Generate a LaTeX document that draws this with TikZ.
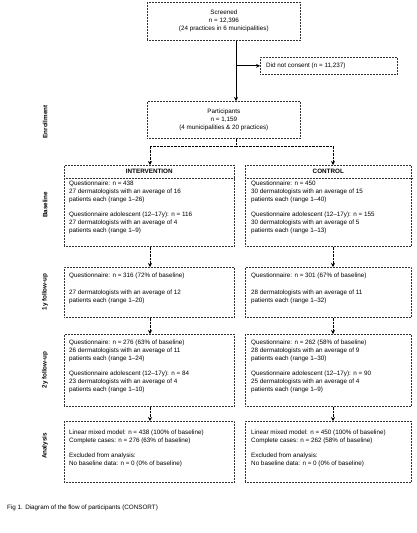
\documentclass[tikz,border=0pt]{standalone}
\usepackage{fontspec}
\setmainfont{Liberation Sans}
\usetikzlibrary{arrows.meta,calc}
\begin{document}
\begin{tikzpicture}[x=1pt,y=1pt,
  box/.style={draw=black!80, line width=0.6pt, dash pattern=on 0.7pt off 0.8pt, anchor=north west, inner sep=0pt},
  sepline/.style={draw=black!80, line width=0.6pt, dash pattern=on 0.7pt off 0.8pt},
  txt/.style={font=\fontsize{6.3}{8}\selectfont, inner sep=0pt, anchor=north west, align=left},
  ctxt/.style={font=\fontsize{6.3}{8}\selectfont, inner sep=0pt, align=center},
  head/.style={font=\fontsize{6.3}{8}\selectfont\bfseries, inner sep=0pt},
  stage/.style={font=\fontsize{6.3}{8}\selectfont\bfseries, inner sep=0pt, rotate=90},
  mainarrow/.style={draw=black, line width=1pt, -{Stealth[length=4pt,width=4pt]}},
  dotarrow/.style={draw=black, line width=0.8pt, dash pattern=on 0.8pt off 0.6pt, -{Stealth[length=4pt,width=4pt,fill=black]}},
  dotline/.style={draw=black, line width=0.7pt, dash pattern=on 0.8pt off 0.6pt}]
\useasboundingbox (0,0) rectangle (417,-533);
\coordinate (spine) at (236,0);
\coordinate (ci) at (150,0);
\coordinate (cc) at (333,0);

% Enrollment
\node[box, minimum width=153pt, minimum height=38pt] (top) at (147,-2) {};
\node[ctxt] (toptxt) at (top.center) {Screened\\n = 12,396\\(24 practices in 6 municipalities)};
\node[box, minimum width=137pt, minimum height=17pt] (excl) at (260,-57) {};
\node[txt, anchor=west] (excltxt) at ([xshift=6pt]excl.west) {Did not consent (n = 11,237)};
\node[box, minimum width=153pt, minimum height=37pt] (part) at (147,-101) {};
\node[ctxt] (parttxt) at (part.center) {Participants\\n = 1,159\\(4 municipalities \& 20 practices)};

% Baseline
\node[box, minimum width=170pt, minimum height=81pt] (ib) at (64,-165) {};
\node[head] (ibh) at ($(ib.north)+(0,-6.5)$) {INTERVENTION};
\draw[sepline] ($(ib.north west)+(0,-13)$) -- ($(ib.north east)+(0,-13)$);
\node[txt] (ibt) at ($(ib.north west)+(5,-16)$) {Questionnaire: n = 438\\27 dermatologists with an average of 16\\patients each (range 1--26)\\[7pt]Questionnaire adolescent (12--17y): n = 116\\27 dermatologists with an average of 4\\patients each (range 1--9)};
\node[box, minimum width=166pt, minimum height=81pt] (cb) at (245,-165) {};
\node[head] (cbh) at ($(cb.north)+(0,-6.5)$) {CONTROL};
\draw[sepline] ($(cb.north west)+(0,-13)$) -- ($(cb.north east)+(0,-13)$);
\node[txt] (cbt) at ($(cb.north west)+(6,-16)$) {Questionnaire: n = 450\\30 dermatologists with an average of 15\\patients each (range 1--40)\\[7pt]Questionnaire adolescent (12--17y): n = 155\\30 dermatologists with an average of 5\\patients each (range 1--13)};

% 1y follow-up
\node[box, minimum width=170pt, minimum height=50pt] (i1) at (64,-267) {};
\node[txt] (i1t) at ($(i1.north west)+(5,-6)$) {Questionnaire: n = 316 (72\% of baseline)\\[9pt]27 dermatologists with an average of 12\\patients each (range 1--20)};
\node[box, minimum width=166pt, minimum height=50pt] (c1) at (245,-267) {};
\node[txt] (c1t) at ($(c1.north west)+(6,-6)$) {Questionnaire: n = 301 (67\% of baseline)\\[9pt]28 dermatologists with an average of 11\\patients each (range 1--32)};

% 2y follow-up
\node[box, minimum width=170pt, minimum height=72pt] (i2) at (64,-334) {};
\node[txt] (i2t) at ($(i2.north west)+(5,-6)$) {Questionnaire: n = 276 (63\% of baseline)\\26 dermatologists with an average of 11\\patients each (range 1--24)\\[7pt]Questionnaire adolescent (12--17y): n = 84\\23 dermatologists with an average of 4\\patients each (range 1--10)};
\node[box, minimum width=166pt, minimum height=72pt] (c2) at (245,-334) {};
\node[txt] (c2t) at ($(c2.north west)+(6,-6)$) {Questionnaire: n = 262 (58\% of baseline)\\28 dermatologists with an average of 9\\patients each (range 1--30)\\[7pt]Questionnaire adolescent (12--17y): n = 90\\25 dermatologists with an average of 4\\patients each (range 1--9)};

% Analysis
\node[box, minimum width=170pt, minimum height=61pt] (ia) at (64,-421) {};
\node[txt] (iat) at ($(ia.north west)+(5,-9)$) {Linear mixed model: n = 438 (100\% of baseline)\\Complete cases: n = 276 (63\% of baseline)\\[7pt]Excluded from analysis:\\No baseline data: n = 0 (0\% of baseline)};
\node[box, minimum width=166pt, minimum height=61pt] (ca) at (245,-421) {};
\node[txt] (cat) at ($(ca.north west)+(6,-9)$) {Linear mixed model: n = 450 (100\% of baseline)\\Complete cases: n = 262 (58\% of baseline)\\[7pt]Excluded from analysis:\\No baseline data: n = 0 (0\% of baseline)};

% stage labels
\node[stage] (lenr) at (45,-122) {Enrollment};
\node[stage] (lbas) at (45,-205) {Baseline};
\node[stage] (l1y) at (45,-292) {1y follow-up};
\node[stage] (l2y) at (45,-370) {2y follow-up};
\node[stage] (lana) at (45,-446) {Analysis};

% caption
\node[txt, anchor=west] (cap) at (7,-508) {Fig 1. Diagram of the flow of participants (CONSORT)};

% connectors
\draw[mainarrow] (top.south -| spine) -- (part.north -| spine);
\draw[mainarrow] (spine |- excl.west) -- (excl.west);
\coordinate (split) at (236,-146);
\draw[dotline] (part.south -| spine) -- (split);
\draw[dotarrow] (split) -| (ib.north -| ci);
\draw[dotarrow] (split) -| (cb.north -| cc);
\draw[dotarrow] (ib.south -| ci) -- (i1.north -| ci);
\draw[dotarrow] (cb.south -| cc) -- (c1.north -| cc);
\draw[dotarrow] (i1.south -| ci) -- (i2.north -| ci);
\draw[dotarrow] (c1.south -| cc) -- (c2.north -| cc);
\draw[dotarrow] (i2.south -| ci) -- (ia.north -| ci);
\draw[dotarrow] (c2.south -| cc) -- (ca.north -| cc);
\end{tikzpicture}
\end{document}
